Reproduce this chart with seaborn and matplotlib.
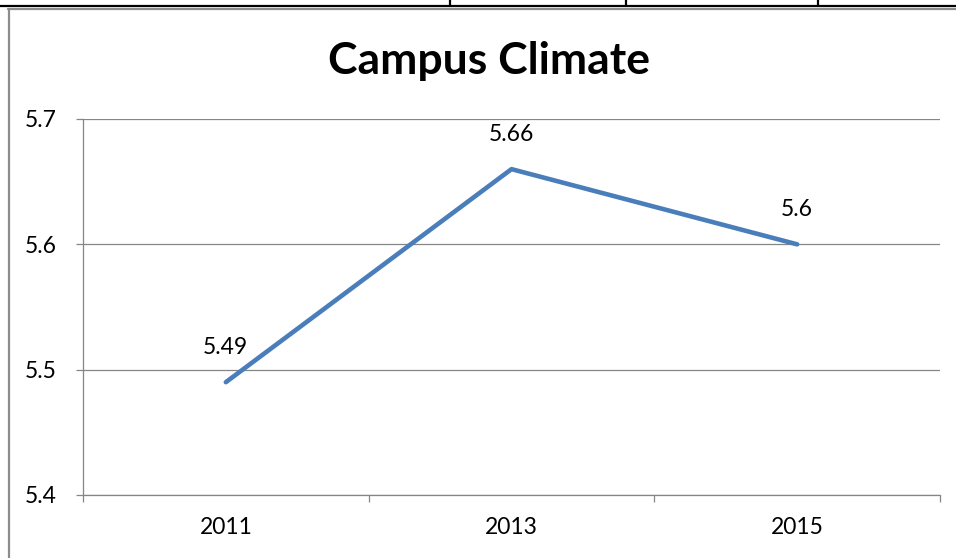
import matplotlib
matplotlib.use("Agg")
import matplotlib.pyplot as plt
import seaborn as sns
import pandas as pd
from matplotlib.lines import Line2D

years = ["2011", "2013", "2015"]
values = [5.49, 5.66, 5.6]
value_labels = ["5.49", "5.66", "5.6"]
y_ticks = [5.4, 5.5, 5.6, 5.7]
title = "Campus Climate"

sns.set_theme(style="white")
plt.rcParams["font.family"] = ["Lato", "DejaVu Sans"]

df = pd.DataFrame({"year": years, "value": values})

W, H = 956, 558
fig = plt.figure(figsize=(W / 100, H / 100), dpi=100)
ax = fig.add_axes([83 / W, 1 - 495 / H, (940 - 83) / W, (495 - 119) / H])

sns.lineplot(data=df, x="year", y="value", ax=ax, color="#4A7EBB",
             linewidth=3.3, sort=False)

grid_color = "#868686"
fs = 16.5
ax.set_xlim(-0.5, 2.5)
ax.set_ylim(5.4, 5.7)
ax.set_yticks(y_ticks)
ax.set_yticklabels([f"{v:.1f}" for v in y_ticks])
ax.set_xticks(range(len(years)))
ax.set_xticklabels(years)
ax.set_xticks([-0.5, 0.5, 1.5, 2.5], minor=True)
for v in y_ticks:
    ax.axhline(v, color=grid_color, linewidth=0.9, zorder=0)
ax.tick_params(axis="x", which="major", length=0, pad=16, labelsize=fs,
               colors="black")
ax.tick_params(axis="x", which="minor", length=5, width=0.9, color=grid_color,
               bottom=True)
ax.tick_params(axis="y", which="major", length=5, width=0.9, color=grid_color,
               pad=14, labelsize=fs, left=True, colors="black")
ax.tick_params(axis="y", colors=grid_color, labelcolor="black")
for side in ["top", "right"]:
    ax.spines[side].set_visible(False)
for side in ["left", "bottom"]:
    ax.spines[side].set_color(grid_color)
    ax.spines[side].set_linewidth(0.9)
ax.set_xlabel("")
ax.set_ylabel("")

for i, (v, lab) in enumerate(zip(values, value_labels)):
    ax.annotate(lab, (i, v), xytext=(0, 25), textcoords="offset points",
                ha="center", va="center", fontsize=fs, color="black")

fig.text(489 / W, 1 - 61 / H, title, ha="center", va="center",
         fontsize=32, fontweight="bold", color="black")

# surrounding frame / table lines
fig.add_artist(Line2D([0, 1], [1 - 5.5 / H, 1 - 5.5 / H], color="black",
                      linewidth=1.6, transform=fig.transFigure))
for x in [450, 626, 818]:
    fig.add_artist(Line2D([x / W, x / W], [1, 1 - 6 / H], color="black",
                          linewidth=1.6, transform=fig.transFigure))
fig.add_artist(Line2D([8 / W, 1], [1 - 8.5 / H, 1 - 8.5 / H], color="#8c8c8c",
                      linewidth=1.6, transform=fig.transFigure))
fig.add_artist(Line2D([8.5 / W, 8.5 / W], [1 - 8.5 / H, 0], color="#8c8c8c",
                      linewidth=1.6, transform=fig.transFigure))

fig.savefig("out.png", dpi=100)
